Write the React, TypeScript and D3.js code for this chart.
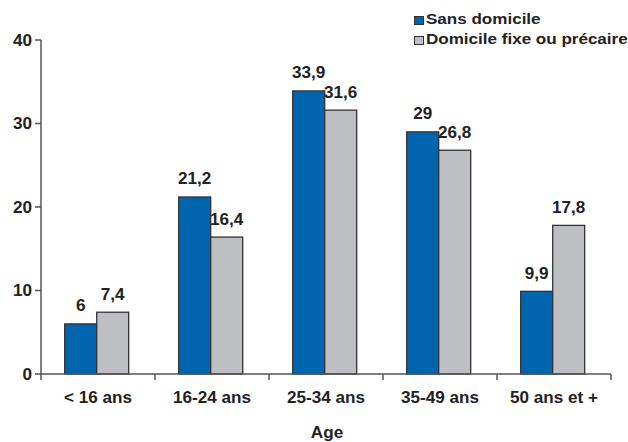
import React from "react";
import * as d3 from "d3";

const categories = ["< 16 ans", "16-24 ans", "25-34 ans", "35-49 ans", "50 ans et +"];
const seriesNames = ["Sans domicile", "Domicile fixe ou précaire"];
const sansDomicile = [6, 21.2, 33.9, 29, 9.9];
const domicileFixe = [7.4, 16.4, 31.6, 26.8, 17.8];
const yTicks = [0, 10, 20, 30, 40];
const colors = ["#0064AE", "#BEBFC3"];
const xTitle = "Age";

const W = 628;
const H = 442;
const left = 41;
const right = 611;
const top = 40;
const bottom = 374;
const FONT = "'Liberation Sans', Arial, Helvetica, sans-serif";

function T(props: {
  x: number;
  y: number;
  size: number;
  sx?: number;
  anchor?: "start" | "middle" | "end";
  children: React.ReactNode;
}) {
  const { x, y, size, sx = 1.07, anchor = "start", children } = props;
  return (
    <g transform={`translate(${x},${y}) scale(${sx},1)`}>
      <text x={0} y={0} textAnchor={anchor} fontSize={size} fill="#222">
        {children}
      </text>
    </g>
  );
}

export default function App() {
  const x0 = d3.scaleBand<string>().domain(categories).range([left, right]).padding(0);
  const bw = x0.bandwidth();
  const x1 = d3
    .scaleBand<string>()
    .domain(seriesNames)
    .range([bw / 2 - 33.3, bw / 2 + 30.7])
    .padding(0);
  const y = d3.scaleLinear().domain([0, 40]).range([bottom, top]);
  const series = [sansDomicile, domicileFixe];
  const fmt = (v: number) => String(v).replace(".", ",");
  const boundaries = [...categories.map((c) => x0(c) as number), right];

  return (
    <svg
      width={W}
      height={H}
      style={{ position: "absolute", left: 0, top: 0, background: "#fff" }}
      fontFamily={FONT}
      fontWeight="bold"
    >
      {/* y axis */}
      <line x1={left} x2={left} y1={top} y2={bottom} stroke="#555" strokeWidth={1.5} />
      {yTicks.map((t) => (
        <g key={t}>
          <line x1={left - 6} x2={left} y1={y(t)} y2={y(t)} stroke="#555" strokeWidth={1.5} />
          <T x={left - 9} y={y(t) + 5.5} size={16} anchor="end">
            {t}
          </T>
        </g>
      ))}
      {/* bars */}
      {categories.map((c, i) =>
        seriesNames.map((s, j) => {
          const v = series[j][i];
          const bx = (x0(c) as number) + (x1(s) as number);
          return (
            <g key={c + s}>
              <rect
                x={bx}
                y={y(v)}
                width={x1.bandwidth()}
                height={bottom - y(v)}
                fill={colors[j]}
                stroke="#333"
                strokeWidth={1.3}
              />
              <T x={bx + x1.bandwidth() / 2} y={y(v) - 12.5} size={16} anchor="middle">
                {fmt(v)}
              </T>
            </g>
          );
        })
      )}
      {/* x axis */}
      <line x1={left} x2={right} y1={bottom} y2={bottom} stroke="#555" strokeWidth={1.5} />
      {boundaries.map((b, i) => (
        <line key={i} x1={b} x2={b} y1={bottom} y2={bottom + 6} stroke="#555" strokeWidth={1.5} />
      ))}
      {categories.map((c) => (
        <T key={c} x={(x0(c) as number) + bw / 2} y={403} size={16} anchor="middle">
          {c}
        </T>
      ))}
      <T x={(left + right) / 2 + 1} y={438} size={16} anchor="middle">
        {xTitle}
      </T>
      {/* legend */}
      {seriesNames.map((s, j) => (
        <g key={s} transform={`translate(414, ${16 + j * 20})`}>
          <rect x={0.5} y={0.5} width={9} height={8} fill={colors[j]} stroke="#333" strokeWidth={1} />
          <T x={12} y={8.3} size={15.5} sx={1.1}>
            {s}
          </T>
        </g>
      ))}
    </svg>
  );
}
